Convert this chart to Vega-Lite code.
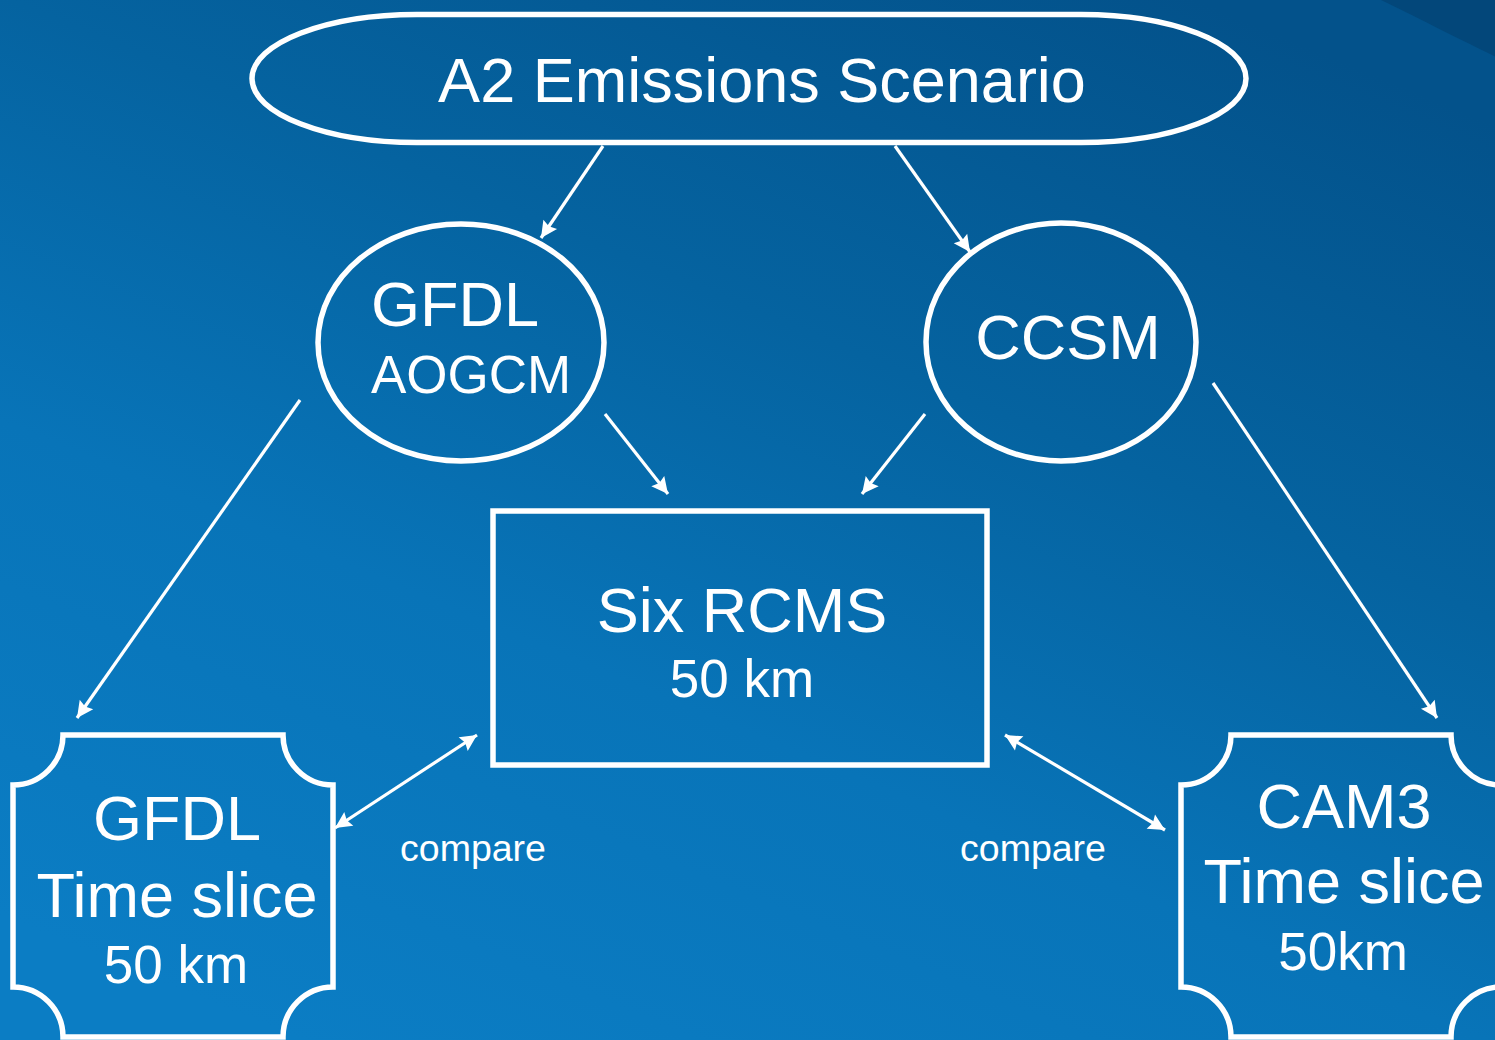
{
  "$schema": "https://vega.github.io/schema/vega-lite/v6.json",
  "width": 1495,
  "height": 1040,
  "autosize": {"type": "fit", "contains": "padding"},
  "padding": 0,
  "background": "#0669a8",
  "config": {"view": {"stroke": null}},
  "datasets": {
    "nodes": [
      {"id": "A2", "x": 749, "y": 78.5},
      {"id": "GFDL", "x": 461, "y": 342.5},
      {"id": "CCSM", "x": 1061, "y": 342},
      {"id": "GFDL_TS", "x": 173, "y": 886},
      {"id": "CAM3_TS", "x": 1341, "y": 886}
    ],
    "boxes": [
      {"id": "RCMS", "x": 493, "x2": 987, "y": 511, "y2": 765}
    ],
    "edges": [
      {"from": "A2", "to": "GFDL", "x1": 603, "y1": 146, "x2": 541, "y2": 238, "both": false},
      {"from": "A2", "to": "CCSM", "x1": 895, "y1": 146, "x2": 970, "y2": 252, "both": false},
      {"from": "GFDL", "to": "GFDL_TS", "x1": 300, "y1": 400, "x2": 77, "y2": 718, "both": false},
      {"from": "GFDL", "to": "RCMS", "x1": 605, "y1": 414, "x2": 668, "y2": 494, "both": false},
      {"from": "CCSM", "to": "RCMS", "x1": 925, "y1": 414, "x2": 862, "y2": 494, "both": false},
      {"from": "CCSM", "to": "CAM3_TS", "x1": 1213, "y1": 383, "x2": 1437, "y2": 718, "both": false},
      {"from": "GFDL_TS", "to": "RCMS", "x1": 335, "y1": 828, "x2": 477, "y2": 735, "both": true},
      {"from": "RCMS", "to": "CAM3_TS", "x1": 1005, "y1": 735, "x2": 1165, "y2": 830, "both": true}
    ],
    "labels": [
      {"text": "A2 Emissions Scenario", "x": 762, "y": 102, "level": "main"},
      {"text": "GFDL", "x": 455, "y": 326, "level": "main"},
      {"text": "AOGCM", "x": 471, "y": 393, "level": "sub"},
      {"text": "CCSM", "x": 1068, "y": 359, "level": "main"},
      {"text": "Six RCMS", "x": 742, "y": 632, "level": "main"},
      {"text": "50 km", "x": 742, "y": 697, "level": "sub"},
      {"text": "GFDL", "x": 177, "y": 840, "level": "main"},
      {"text": "Time slice", "x": 177, "y": 917, "level": "main"},
      {"text": "50 km", "x": 176, "y": 983, "level": "sub"},
      {"text": "CAM3", "x": 1344, "y": 828, "level": "main"},
      {"text": "Time slice", "x": 1344, "y": 903, "level": "main"},
      {"text": "50km", "x": 1343, "y": 970, "level": "sub"},
      {"text": "compare", "x": 473, "y": 861, "level": "note"},
      {"text": "compare", "x": 1033, "y": 861, "level": "note"}
    ]
  },
  "layer": [
    {
      "data": {"values": [{}]},
      "mark": {
        "type": "rect",
        "clip": true,
        "fill": {
          "gradient": "linear",
          "x1": 0.2, "y1": 1, "x2": 0.8, "y2": 0,
          "stops": [
            {"offset": 0, "color": "#0b7dc4"},
            {"offset": 0.35, "color": "#0874b8"},
            {"offset": 0.65, "color": "#0563a0"},
            {"offset": 1, "color": "#03528b"}
          ]
        }
      },
      "encoding": {
        "x": {"datum": 0, "type": "quantitative", "scale": {"domain": [0, 1495], "nice": false, "zero": false}, "axis": null},
        "x2": {"datum": 1495},
        "y": {"datum": 0, "type": "quantitative", "scale": {"domain": [0, 1040], "nice": false, "zero": false, "reverse": true}, "axis": null},
        "y2": {"datum": 1040}
      }
    },
    {
      "data": {"values": [{}]},
      "mark": {
        "type": "point",
        "clip": true,
        "shape": "M -0.95 -0.1 L 0.1 -0.1 L 0.1 0.5 L 0 0.47 C -0.35 0.3 -0.7 0.12 -0.95 0 Z",
        "size": 57600,
        "filled": true,
        "color": "#03477a",
        "opacity": 1
      },
      "encoding": {
        "x": {"datum": 1495, "type": "quantitative", "axis": null},
        "y": {"datum": 0, "type": "quantitative", "axis": null}
      }
    },
    {
      "data": {"name": "nodes"},
      "transform": [{"filter": "datum.id === 'A2'"}],
      "mark": {
        "type": "point",
        "clip": true,
        "shape": "M -0.668 -0.12877 L 0.668 -0.12877 C 0.8514 -0.12877 1 -0.07112 1 0 C 1 0.07112 0.8514 0.12877 0.668 0.12877 L -0.668 0.12877 C -0.8514 0.12877 -1 0.07112 -1 0 C -1 -0.07112 -0.8514 -0.12877 -0.668 -0.12877 Z",
        "size": 988036,
        "filled": false,
        "color": "white",
        "strokeWidth": 5.5,
        "opacity": 1
      },
      "encoding": {
        "x": {"field": "x", "type": "quantitative", "axis": null},
        "y": {"field": "y", "type": "quantitative", "axis": null}
      }
    },
    {
      "data": {"name": "nodes"},
      "transform": [{"filter": "datum.id === 'GFDL'"}],
      "mark": {
        "type": "point",
        "clip": true,
        "shape": "M 1 0 C 1 0.4577 0.5523 0.8287 0 0.8287 C -0.5523 0.8287 -1 0.4577 -1 0 C -1 -0.4577 -0.5523 -0.8287 0 -0.8287 C 0.5523 -0.8287 1 -0.4577 1 0 Z",
        "size": 81796,
        "filled": false,
        "color": "white",
        "strokeWidth": 5.5,
        "opacity": 1
      },
      "encoding": {
        "x": {"field": "x", "type": "quantitative", "axis": null},
        "y": {"field": "y", "type": "quantitative", "axis": null}
      }
    },
    {
      "data": {"name": "nodes"},
      "transform": [{"filter": "datum.id === 'CCSM'"}],
      "mark": {
        "type": "point",
        "clip": true,
        "shape": "M 1 0 C 1 0.4868 0.5523 0.8815 0 0.8815 C -0.5523 0.8815 -1 0.4868 -1 0 C -1 -0.4868 -0.5523 -0.8815 0 -0.8815 C 0.5523 -0.8815 1 -0.4868 1 0 Z",
        "size": 72900,
        "filled": false,
        "color": "white",
        "strokeWidth": 5.5,
        "opacity": 1
      },
      "encoding": {
        "x": {"field": "x", "type": "quantitative", "axis": null},
        "y": {"field": "y", "type": "quantitative", "axis": null}
      }
    },
    {
      "data": {"name": "nodes"},
      "transform": [{"filter": "datum.id === 'GFDL_TS' || datum.id === 'CAM3_TS'"}],
      "mark": {
        "type": "point",
        "clip": true,
        "shape": "M -0.6875 -0.94375 L 0.6875 -0.94375 C 0.6875 -0.77115 0.8274 -0.63125 1 -0.63125 L 1 0.63125 C 0.8274 0.63125 0.6875 0.77115 0.6875 0.94375 L -0.6875 0.94375 C -0.6875 0.77115 -0.8274 0.63125 -1 0.63125 L -1 -0.63125 C -0.8274 -0.63125 -0.6875 -0.77115 -0.6875 -0.94375 Z",
        "size": 102400,
        "filled": false,
        "color": "white",
        "strokeWidth": 5.5,
        "opacity": 1
      },
      "encoding": {
        "x": {"field": "x", "type": "quantitative", "axis": null},
        "y": {"field": "y", "type": "quantitative", "axis": null}
      }
    },
    {
      "data": {"name": "boxes"},
      "mark": {"type": "rect", "clip": true, "fill": null, "stroke": "white", "strokeWidth": 5.5},
      "encoding": {
        "x": {"field": "x", "type": "quantitative", "axis": null},
        "x2": {"field": "x2"},
        "y": {"field": "y", "type": "quantitative", "axis": null},
        "y2": {"field": "y2"}
      }
    },
    {
      "data": {"name": "edges"},
      "mark": {"type": "rule", "clip": true, "color": "white", "strokeWidth": 3.2},
      "encoding": {
        "x": {"field": "x1", "type": "quantitative", "axis": null},
        "y": {"field": "y1", "type": "quantitative", "axis": null},
        "x2": {"field": "x2"},
        "y2": {"field": "y2"}
      }
    },
    {
      "data": {"name": "edges"},
      "transform": [{"calculate": "atan2(datum.y2 - datum.y1, datum.x2 - datum.x1) * 180 / PI", "as": "ang"}],
      "mark": {
        "type": "point",
        "clip": true,
        "shape": "M 0 0 L -1 -0.5 L -0.85 0 L -1 0.5 Z",
        "size": 1089,
        "filled": true,
        "color": "white",
        "opacity": 1
      },
      "encoding": {
        "x": {"field": "x2", "type": "quantitative", "axis": null},
        "y": {"field": "y2", "type": "quantitative", "axis": null},
        "angle": {"field": "ang", "type": "quantitative", "scale": null}
      }
    },
    {
      "data": {"name": "edges"},
      "transform": [
        {"filter": "datum.both"},
        {"calculate": "atan2(datum.y1 - datum.y2, datum.x1 - datum.x2) * 180 / PI", "as": "ang"}
      ],
      "mark": {
        "type": "point",
        "clip": true,
        "shape": "M 0 0 L -1 -0.5 L -0.85 0 L -1 0.5 Z",
        "size": 1089,
        "filled": true,
        "color": "white",
        "opacity": 1
      },
      "encoding": {
        "x": {"field": "x1", "type": "quantitative", "axis": null},
        "y": {"field": "y1", "type": "quantitative", "axis": null},
        "angle": {"field": "ang", "type": "quantitative", "scale": null}
      }
    },
    {
      "data": {"name": "labels"},
      "transform": [{"filter": "datum.level === 'main'"}],
      "mark": {"type": "text", "clip": true, "font": "Liberation Sans", "fontSize": 63, "color": "white", "align": "center", "baseline": "alphabetic"},
      "encoding": {
        "x": {"field": "x", "type": "quantitative", "axis": null},
        "y": {"field": "y", "type": "quantitative", "axis": null},
        "text": {"field": "text"}
      }
    },
    {
      "data": {"name": "labels"},
      "transform": [{"filter": "datum.level === 'sub'"}],
      "mark": {"type": "text", "clip": true, "font": "Liberation Sans", "fontSize": 53, "color": "white", "align": "center", "baseline": "alphabetic"},
      "encoding": {
        "x": {"field": "x", "type": "quantitative", "axis": null},
        "y": {"field": "y", "type": "quantitative", "axis": null},
        "text": {"field": "text"}
      }
    },
    {
      "data": {"name": "labels"},
      "transform": [{"filter": "datum.level === 'note'"}],
      "mark": {"type": "text", "clip": true, "font": "Liberation Sans", "fontSize": 37.5, "color": "white", "align": "center", "baseline": "alphabetic"},
      "encoding": {
        "x": {"field": "x", "type": "quantitative", "axis": null},
        "y": {"field": "y", "type": "quantitative", "axis": null},
        "text": {"field": "text"}
      }
    }
  ]
}
